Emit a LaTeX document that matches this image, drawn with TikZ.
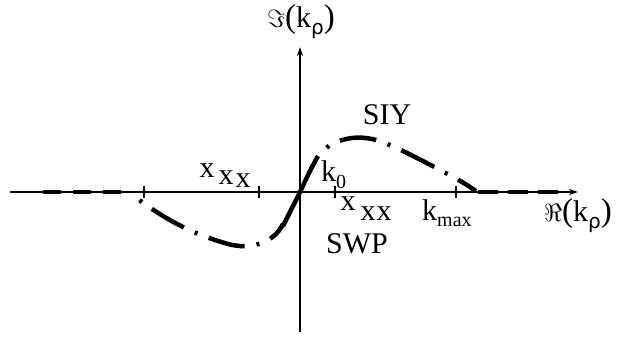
\documentclass[tikz,border=0pt]{standalone}
\usepackage{fontspec}
\setmainfont{Liberation Serif}
\newfontfamily\rhofont{DejaVu Sans}
\usetikzlibrary{arrows.meta}
\newcommand{\lab}[1]{\fontsize{30}{32}\selectfont #1}
\newcommand{\sub}[1]{\raisebox{-0.22em}[0.4em][0pt]{\fontsize{20}{21}\selectfont #1}}
\newcommand{\bigpar}[1]{{\fontsize{33}{34}\selectfont #1}}
\tikzset{
  axis/.style={line width=1.5pt,-{Stealth[length=9pt,width=6pt]}},
  tick/.style={line width=1.3pt},
  curve/.style={line width=4.5pt},
  dashline/.style={curve,dash pattern=on 18pt off 12pt},
  dashdot/.style={curve,dash pattern=on 3pt off 12pt on 37pt off 12pt,dash phase=52pt},
  txt/.style={inner sep=0pt,font=\lab}
}
\begin{document}
\begin{tikzpicture}[x=1pt,y=-1pt]
\useasboundingbox (0,0) rectangle (619,342);
% axes
\coordinate (hL) at (10,192);
\coordinate (hR) at (578,192);
\coordinate (vB) at (300,332);
\coordinate (vT) at (300,47);
\draw[axis] (hL) -- (hR);
\draw[axis] (vB) -- (vT);
% ticks
\foreach \t in {144,259,335,456}{\draw[tick] (\t,186) -- (\t,198);}
% curve parts
\draw[dashline] (43,192) -- (126,192);
\draw[dashdot] plot[smooth,tension=0.6] coordinates {(130,193) (155,211) (185,228) (215,240) (240,246) (262,243) (276,234) (283,224)};
\draw[curve] plot[smooth,tension=0.6] coordinates {(283,226) (292,208) (300,192) (309,173) (318,156)};
\draw[dashdot] plot[smooth,tension=0.6] coordinates {(318,156) (332,144) (352,138) (372,139) (392,146) (415,157) (440,170) (462,182) (476,191)};
\draw[curve,dash pattern=on 20pt off 10pt] (478,192) -- (564,192);
% labels
\node[txt,anchor=base] (im) at (301,28) {$\Im$\bigpar{(}k\sub{\rhofont ρ}\bigpar{)}};
\node[txt,anchor=base] (re) at (578,222) {$\Re$\bigpar{(}k\sub{\rhofont ρ}\bigpar{)}};
\node[txt,anchor=base] (siy) at (387,125) {SIY};
\node[txt,anchor=base] (swp) at (357,253) {SWP};
\node[txt,anchor=base west] (k0) at (321,182) {k\sub{0}};
\node[txt,anchor=base west] (kmax) at (422,220) {k\sub{max}};
\node[txt,anchor=base] (xl1) at (207,178) {x};
\node[txt,anchor=base] (xl2) at (226,185) {x};
\node[txt,anchor=base] (xl3) at (243,188) {x};
\node[txt,anchor=base] (xr1) at (348,211) {x};
\node[txt,anchor=base] (xr2) at (368,220) {x};
\node[txt,anchor=base] (xr3) at (384,220) {x};
\end{tikzpicture}
\end{document}
